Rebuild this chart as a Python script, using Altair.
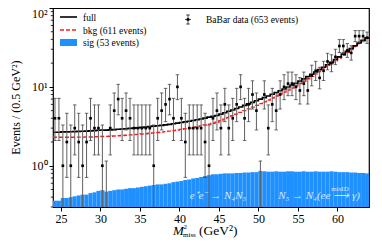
import altair as alt
import numpy as np
import pandas as pd

# ---------------- data ----------------
counts = [4, 4, 1, 2, 1, 3, 2, 1, 2, 4, 3, 3, 1, 0, 3, 5, 7, 4, 5, 4,
          3, 3, 3, 3, 3, 1, 4, 5, 6, 7, 4, 10, 4, 2, 3, 3, 3, 3, 2, 1,
          4, 5, 3, 6, 3, 4, 6, 10, 4, 6, 8, 5, 0, 8, 3, 6, 5, 8, 10, 11,
          11, 10, 9, 11, 9, 14, 16, 13, 16, 21, 20, 24, 33, 33, 29, 27, 44, 44, 44, 42]

bkg = [2.30, 2.30, 2.30, 2.30, 2.30, 2.30, 2.31, 2.31, 2.32, 2.32,
       2.33, 2.34, 2.35, 2.36, 2.37, 2.38, 2.40, 2.42, 2.44, 2.46,
       2.48, 2.50, 2.53, 2.55, 2.58, 2.61, 2.64, 2.67, 2.71, 2.75,
       2.79, 2.84, 2.89, 2.94, 3.00, 3.06, 3.13, 3.20, 3.28, 3.37,
       3.46, 3.56, 3.72, 3.90, 4.10, 4.30, 4.52, 4.75, 5.00, 5.26,
       5.54, 5.83, 6.13, 6.45, 6.82, 7.22, 7.65, 8.10, 8.58, 9.10,
       9.65, 10.3, 11.0, 11.8, 12.7, 13.6, 14.6, 15.7, 16.9, 18.2,
       19.7, 21.4, 23.2, 25.2, 27.4, 29.8, 32.4, 35.2, 38.2, 41.2]

sig = [0.36, 0.36, 0.39, 0.39, 0.40, 0.41, 0.42, 0.43, 0.43, 0.45,
       0.46, 0.48, 0.49, 0.47, 0.48, 0.49, 0.50, 0.50, 0.51, 0.52,
       0.52, 0.53, 0.54, 0.55, 0.56, 0.57, 0.58, 0.58, 0.59, 0.60,
       0.62, 0.63, 0.64, 0.66, 0.67, 0.69, 0.70, 0.72, 0.74, 0.76,
       0.78, 0.78, 0.79, 0.80, 0.80, 0.80, 0.81, 0.81, 0.82, 0.82,
       0.83, 0.83, 0.86, 0.85, 0.84, 0.84, 0.85, 0.84, 0.84, 0.85,
       0.85, 0.84, 0.84, 0.85, 0.84, 0.84, 0.85, 0.84, 0.84, 0.84,
       0.85, 0.84, 0.83, 0.83, 0.83, 0.82, 0.82, 0.81, 0.81, 0.80]

x_ticks = [25, 30, 35, 40, 45, 50, 55, 60]
y_major = [1, 10, 100]
y_minor = [0.3, 0.4, 0.5, 0.6, 0.7, 0.8, 0.9, 2, 3, 4, 5, 6, 7, 8, 9,
           20, 30, 40, 50, 60, 70, 80, 90]

X_MIN, X_MAX, BIN = 24.0, 64.0, 0.5
Y_MIN, Y_MAX = 0.3, 100.0

# ---------------- tables ----------------
lo = X_MIN + BIN * np.arange(len(counts))
df = pd.DataFrame({"lo": lo, "hi": lo + BIN, "c": lo + BIN / 2,
                   "n": counts, "bkg": bkg, "sig": sig})
df["full"] = df["bkg"] + df["sig"]

# Garwood 68% Poisson intervals (Wilson-Hilferty approximation)
def chi2q(k, z):
    k = np.asarray(k, dtype=float)
    return k * (1 - 2 / (9 * k) + z * np.sqrt(2 / (9 * k))) ** 3

n = df["n"].to_numpy().astype(float)
with np.errstate(divide="ignore", invalid="ignore"):
    elo = np.where(n > 0, chi2q(np.maximum(2 * n, 1e-9), -1.0) / 2, 1e-3)
ehi = np.where(n > 0, chi2q(2 * n + 2, 1.0) / 2, 1.148)
df["elo"] = np.maximum(np.nan_to_num(elo, nan=1e-3), 1e-3)
df["ehi"] = ehi

step = pd.concat([df[["lo", "bkg", "full"]],
                  pd.DataFrame({"lo": [X_MAX], "bkg": [bkg[-1]], "full": [df["full"].iloc[-1]]})],
                 ignore_index=True)

W, H = 316, 199
FONT = "Liberation Serif"

xs = alt.Scale(domain=[X_MIN, X_MAX], nice=False, zero=False)
ys = alt.Scale(type="log", domain=[Y_MIN, Y_MAX], nice=False)

xax = alt.Axis(values=x_ticks, title=None, tickSize=4, tickColor="black", domain=False,
               labelFont=FONT, labelFontSize=12, labelColor="black", labelPadding=2,
               grid=False)
yax = alt.Axis(values=y_major, title="Events / (0.5 GeV²)", tickSize=4, tickColor="black",
               domain=False, grid=False, labelFont=FONT, labelFontSize=12, labelColor="black",
               labelPadding=2,
               labelOffset={"condition": {"test": "datum.value == 100", "value": 5}, "value": 0},
               labelExpr="datum.value == 1 ? '10⁰' : datum.value == 10 ? '10¹' : '10²'",
               titleFont=FONT, titleFontSize=12, titleFontWeight="normal", titleColor="black",
               titleX=-38, titleY=99, titleAngle=-90, titleAlign="center", titleBaseline="middle")

base = alt.Chart(df)

sig_bars = base.mark_rect(color="#1E90FF", stroke="#62b2ff", strokeWidth=0.3, strokeOpacity=0.3,
                          clip=True).encode(
    x=alt.X("lo:Q", scale=xs, axis=xax), x2="hi:Q",
    y=alt.Y("sig:Q", scale=ys, axis=yax), y2=alt.value(H))

bkg_line = alt.Chart(step).mark_line(color="#ff1a1a", strokeWidth=1.4, strokeDash=[4, 2],
                                     interpolate="step-after", clip=True).encode(
    x=alt.X("lo:Q", scale=xs), y=alt.Y("bkg:Q", scale=ys))

full_line = alt.Chart(step).mark_line(color="black", strokeWidth=1.6,
                                      interpolate="step-after", clip=True).encode(
    x=alt.X("lo:Q", scale=xs), y=alt.Y("full:Q", scale=ys))

err = base.mark_rule(color="#606060", strokeWidth=1, clip=True).encode(
    x=alt.X("c:Q", scale=xs), y=alt.Y("elo:Q", scale=ys), y2="ehi:Q")

cap_hi = base.mark_tick(orient="horizontal", size=3.5, thickness=1, color="#333333",
                        clip=True).encode(x=alt.X("c:Q", scale=xs), y=alt.Y("ehi:Q", scale=ys))
cap_lo = base.mark_tick(orient="horizontal", size=3.5, thickness=1, color="#333333",
                        clip=True).encode(x=alt.X("c:Q", scale=xs), y=alt.Y("elo:Q", scale=ys))

pts = base.transform_filter("datum.n > 0").mark_square(size=7, color="black", opacity=1).encode(
    x=alt.X("c:Q", scale=xs), y=alt.Y("n:Q", scale=ys))

minor = alt.Chart(pd.DataFrame({"v": y_minor})).mark_rule(color="black", strokeWidth=0.8).encode(
    y=alt.Y("v:Q", scale=ys), x=alt.value(-2.2), x2=alt.value(0))

# ---------------- legend ----------------
one = pd.DataFrame({"k": [0]})
leg_full = alt.Chart(one).mark_rule(color="black", strokeWidth=1.6).encode(
    x=alt.value(7), x2=alt.value(24), y=alt.value(9))
leg_bkg = alt.Chart(one).mark_rule(color="#ff1a1a", strokeWidth=1.4, strokeDash=[4, 2]).encode(
    x=alt.value(7), x2=alt.value(24), y=alt.value(22))
leg_sig = alt.Chart(one).mark_rect(color="#1E90FF").encode(
    x=alt.value(7), x2=alt.value(24), y=alt.value(31), y2=alt.value(38))
leg_text = alt.Chart(pd.DataFrame({
    "t": ["full", "bkg (611 events)", "sig (53 events)", "BaBar data (653 events)"],
    "x": [30, 30, 30, 153], "y": [9.5, 22.5, 35, 11.5]})).mark_text(
    font=FONT, fontSize=9.5, align="left", baseline="middle", color="black").encode(
    x=alt.X("x:Q", scale=None), y=alt.Y("y:Q", scale=None), text="t:N")
leg_dv = alt.Chart(one).mark_rule(color="#555555", strokeWidth=1).encode(
    x=alt.value(135), y=alt.value(7), y2=alt.value(16))
leg_dh = alt.Chart(one).mark_rule(color="#555555", strokeWidth=1).encode(
    x=alt.value(132), x2=alt.value(138), y=alt.value(11.5))
leg_cap1 = alt.Chart(one).mark_rule(color="#333333", strokeWidth=1).encode(
    x=alt.value(133.3), x2=alt.value(136.7), y=alt.value(7))
leg_cap2 = alt.Chart(one).mark_rule(color="#333333", strokeWidth=1).encode(
    x=alt.value(133.3), x2=alt.value(136.7), y=alt.value(16))
leg_pt = alt.Chart(one).mark_square(size=7, color="black", opacity=1).encode(
    x=alt.value(135), y=alt.value(11.5))

# ---------------- annotations ----------------
ann = alt.Chart(pd.DataFrame({
    "t": ["e⁺e⁻ → N₄N₅", "N₅ → N₄(ee ⟶ γ)"],
    "x": [165, 266], "y": [188, 188]})).mark_text(
    font=FONT, fontStyle="italic", fontSize=11, align="center", baseline="middle",
    color="white", opacity=0.8).encode(
    x=alt.X("x:Q", scale=None), y=alt.Y("y:Q", scale=None), text="t:N")
ann_small = alt.Chart(pd.DataFrame({"t": ["misID"], "x": [287], "y": [180.5]})).mark_text(
    font=FONT, fontSize=7, align="center", baseline="middle", color="white", opacity=0.8).encode(
    x=alt.X("x:Q", scale=None), y=alt.Y("y:Q", scale=None), text="t:N")

xt_m = alt.Chart(pd.DataFrame({"t": ["M"], "x": [120], "y": [226.5]})).mark_text(
    font=FONT, fontSize=13, fontStyle="italic", align="left", baseline="alphabetic",
    color="black").encode(x=alt.X("x:Q", scale=None), y=alt.Y("y:Q", scale=None), text="t:N")
xt_unit = alt.Chart(pd.DataFrame({"t": ["(GeV²)"], "x": [146], "y": [226.5]})).mark_text(
    font=FONT, fontSize=13.5, align="left", baseline="alphabetic",
    color="black").encode(x=alt.X("x:Q", scale=None), y=alt.Y("y:Q", scale=None), text="t:N")
xt_small = alt.Chart(pd.DataFrame({"t": ["2", "miss"], "x": [130.5, 130], "y": [220.5, 228.5]})).mark_text(
    font=FONT, fontSize=7, align="left", baseline="alphabetic", color="black").encode(
    x=alt.X("x:Q", scale=None), y=alt.Y("y:Q", scale=None), text="t:N")

chart = alt.layer(
    sig_bars, bkg_line, full_line, err, cap_hi, cap_lo, pts, minor,
    leg_full, leg_bkg, leg_sig, leg_text, leg_dv, leg_dh, leg_cap1, leg_cap2, leg_pt,
    ann, ann_small, xt_m, xt_unit, xt_small
).properties(
    width=W, height=H,
    autosize=alt.AutoSizeParams(type="none"),
    padding={"left": 45, "top": 0, "right": 5, "bottom": 31},
    background="white"
).configure_view(
    stroke="black", strokeWidth=1.2
).configure_axis(
    domain=False
)

chart.save("out.html", embed_options={"renderer": "svg", "actions": False})
